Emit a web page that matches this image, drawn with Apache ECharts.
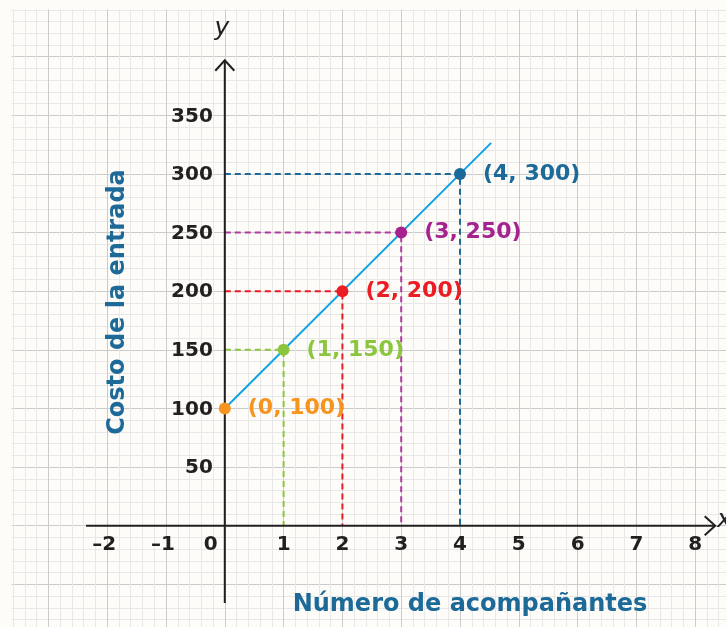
<!DOCTYPE html>
<html>
<head>
<meta charset="utf-8">
<script src="https://cdn.jsdelivr.net/npm/echarts@6/dist/echarts.min.js"></script>
<style>
html,body{margin:0;padding:0;background:#fdfcf9;}
#chart{width:726px;height:627px;}
</style>
</head>
<body>
<div id="chart"></div>
<script>
// ---- data ----
const pointsX = [0, 1, 2, 3, 4];
const pointsY = [100, 150, 200, 250, 300];
const pointColors = ['#f7941d', '#8cc63e', '#ec1c24', '#a6228f', '#1b6a9a'];
const guideColors = ['#f7941d', '#8cc63e', '#ec1c24', '#b03a9e', '#1b6a9a'];
const lineStart = [0, 100];
const lineEnd = [4.53, 326.5];
const xTickValues = [-2, -1, 0, 1, 2, 3, 4, 5, 6, 7, 8];
const xTickLabels = ['\u20132', '\u20131', '0', '1', '2', '3', '4', '5', '6', '7', '8'];
const yTickValues = [50, 100, 150, 200, 250, 300, 350];
const yTickLabels = ['50', '100', '150', '200', '250', '300', '350'];
const xAxisSeg = [-2.36, 0, 8.34, 0];
const yAxisSeg = [0, -66, 0, 397];
const xTitle = 'Número de acompañantes';
const yTitle = 'Costo de la entrada';

const FONT = '"DejaVu Sans"';
const ink = '#231f20';
const titleBlue = '#1d6a98';
const bg = '#fdfcf9';

const chart = echarts.init(document.getElementById('chart'), null, {renderer: 'canvas'});

const guideSeries = [];
for (let i = 0; i < pointsX.length; i++) {
  if (pointsX[i] === 0) continue;
  guideSeries.push({
    type: 'line',
    data: [[0, pointsY[i]], [pointsX[i], pointsY[i]], [pointsX[i], 0]],
    symbol: 'none',
    silent: true,
    lineStyle: {color: guideColors[i], width: 2, type: [6, 4], opacity: 1},
    z: 3
  });
}

const scatterData = pointsX.map((x, i) => ({
  value: [x, pointsY[i]],
  itemStyle: {color: pointColors[i], opacity: 1},
  label: {color: pointColors[i], opacity: 1}
}));

function arrowRender(params, api) {
  const p1 = api.coord([api.value(0), api.value(1)]);
  const p2 = api.coord([api.value(2), api.value(3)]);
  const dx = p2[0] - p1[0], dy = p2[1] - p1[1];
  const len = Math.sqrt(dx * dx + dy * dy);
  const ux = dx / len, uy = dy / len;
  const nx = -uy, ny = ux;
  const back = 10.5, spread = 9.5;
  const a1 = [p2[0] - ux * back + nx * spread, p2[1] - uy * back + ny * spread];
  const a2 = [p2[0] - ux * back - nx * spread, p2[1] - uy * back - ny * spread];
  return {
    type: 'group',
    children: [
      {type: 'line', shape: {x1: p1[0], y1: p1[1], x2: p2[0] - ux * 1, y2: p2[1] - uy * 1},
       style: {stroke: ink, lineWidth: 2}},
      {type: 'polyline', shape: {points: [a1, p2, a2]},
       style: {stroke: ink, lineWidth: 2, fill: null}}
    ]
  };
}

// tick label data: [x, y, axisFlag(0 = x, 1 = y), index]
const tickData = [];
xTickValues.forEach((v, i) => tickData.push([v, 0, 0, i]));
yTickValues.forEach((v, i) => tickData.push([0, v, 1, i]));

function tickRender(params, api) {
  const isY = api.value(2) === 1;
  const idx = api.value(3);
  const p = api.coord([api.value(0), api.value(1)]);
  if (isY) {
    return {type: 'text', x: p[0] - 12, y: p[1] + 1,
      style: {text: yTickLabels[idx], fill: ink, font: 'bold 20px ' + FONT, align: 'right', verticalAlign: 'middle'}};
  }
  const v = xTickValues[idx];
  const dx = v === 0 ? -14 : (v < 0 ? -3 : 0);
  return {type: 'text', x: p[0] + dx, y: p[1] + 9,
    style: {text: xTickLabels[idx], fill: ink, font: 'bold 20px ' + FONT, align: 'center', verticalAlign: 'top'}};
}

const option = {
  backgroundColor: bg,
  animation: false,
  grid: {left: -10.4, right: -28, top: -1.9, bottom: -15.95, containLabel: false, outerBoundsMode: 'none'},
  xAxis: {
    type: 'value', min: -4, max: 9, interval: 1,
    axisLine: {show: false},
    axisTick: {show: false},
    axisLabel: {show: false},
    minorTick: {show: false, splitNumber: 5},
    splitLine: {show: true, lineStyle: {color: '#cbcbcb', width: 1}},
    minorSplitLine: {show: true, lineStyle: {color: '#e8e8e8', width: 1}}
  },
  yAxis: {
    type: 'value', min: -100, max: 450, interval: 50,
    axisLine: {show: false},
    axisTick: {show: false},
    axisLabel: {show: false},
    minorTick: {show: false, splitNumber: 5},
    splitLine: {show: true, lineStyle: {color: '#cbcbcb', width: 1}},
    minorSplitLine: {show: true, lineStyle: {color: '#e8e8e8', width: 1}}
  },
  series: [
    ...guideSeries,
    {
      type: 'custom',
      renderItem: arrowRender,
      data: [xAxisSeg, yAxisSeg],
      clip: false,
      silent: true,
      z: 4
    },
    {
      type: 'custom',
      renderItem: tickRender,
      data: tickData,
      clip: false,
      silent: true,
      z: 4
    },
    {
      type: 'line',
      data: [lineStart, lineEnd],
      symbol: 'none',
      silent: true,
      lineStyle: {color: '#0fa3e3', width: 2, opacity: 1},
      z: 5
    },
    {
      type: 'scatter',
      data: scatterData,
      symbolSize: 12,
      z: 6,
      itemStyle: {opacity: 1},
      emphasis: {disabled: true},
      label: {
        show: true, position: 'right', distance: 17,
        fontFamily: FONT, fontSize: 22, fontWeight: 'bold',
        formatter: function (p) { return '(' + p.value[0] + ', ' + p.value[1] + ')'; }
      }
    }
  ],
  graphic: [
    {type: 'rect', z: 100, shape: {x: 0, y: 0, width: 726, height: 9.5}, style: {fill: bg}},
    {type: 'rect', z: 100, shape: {x: 0, y: 0, width: 11.5, height: 627}, style: {fill: bg}},
    {type: 'text', z: 101, x: 222, y: 28,
     style: {text: 'y', fill: ink, font: 'italic 500 25px ' + FONT, align: 'center', verticalAlign: 'middle'}},
    {type: 'text', z: 101, x: 717, y: 520,
     style: {text: 'x', fill: ink, font: 'italic 500 25px ' + FONT, align: 'left', verticalAlign: 'middle'}},
    {type: 'text', z: 101, x: 470, y: 605,
     style: {text: xTitle, fill: titleBlue, font: 'bold 24px ' + FONT, align: 'center', verticalAlign: 'middle'}},
    {type: 'text', z: 101, x: 118, y: 302, rotation: Math.PI / 2,
     style: {text: yTitle, fill: titleBlue, font: 'bold 24px ' + FONT, align: 'center', verticalAlign: 'middle'}}
  ]
};
chart.setOption(option);
</script>
</body>
</html>
